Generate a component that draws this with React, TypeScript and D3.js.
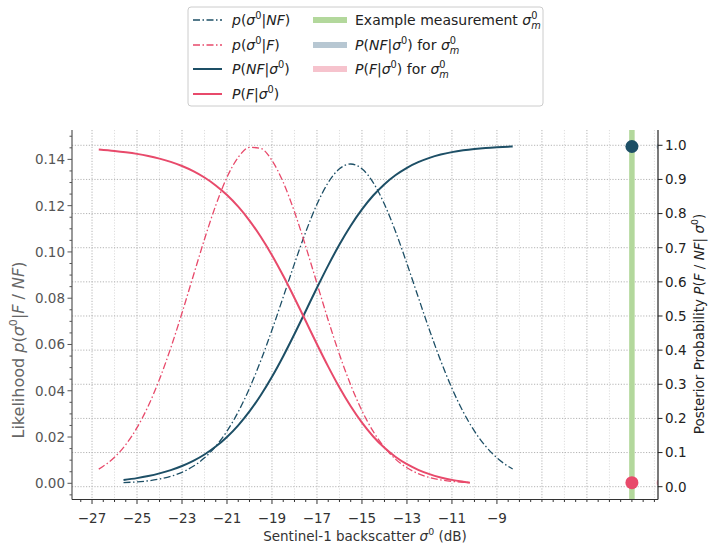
import React from "react";
import * as d3 from "d3";

// ---------- data ----------
const XS_NF = [-25.6, -25, -24.5, -24, -23.5, -23, -22.5, -22, -21.5, -21, -20.5, -20, -19.5, -19, -18.5, -18, -17.5, -17, -16.5, -16, -15.5, -15, -14.5, -14, -13.5, -13, -12.5, -12, -11.5, -11, -10.5, -10, -9.5, -9, -8.5, -8.3];
const LIK_NF = [0.00031, 0.00062, 0.00108, 0.00183, 0.00299, 0.00476, 0.00734, 0.011, 0.016, 0.02256, 0.0309, 0.04106, 0.05295, 0.06628, 0.08051, 0.09493, 0.10862, 0.12061, 0.12998, 0.13594, 0.138, 0.13594, 0.12998, 0.12061, 0.10862, 0.09493, 0.08051, 0.06628, 0.05295, 0.04106, 0.0309, 0.02256, 0.016, 0.011, 0.00734, 0.00619];
const POST_NF = [0.0196, 0.0251, 0.0313, 0.0391, 0.0486, 0.0607, 0.0757, 0.0944, 0.1176, 0.1457, 0.1798, 0.2204, 0.2679, 0.322, 0.3823, 0.4472, 0.5148, 0.5827, 0.6483, 0.7095, 0.7645, 0.8124, 0.8529, 0.8862, 0.913, 0.9342, 0.9505, 0.9632, 0.9728, 0.98, 0.9853, 0.9893, 0.9923, 0.9944, 0.996, 0.9965];

const XS_F = [-26.7, -26, -25.5, -25, -24.5, -24, -23.5, -23, -22.5, -22, -21.5, -21, -20.5, -20, -19.5, -19, -18.5, -18, -17.5, -17, -16.5, -16, -15.5, -15, -14.5, -14, -13.5, -13, -12.5, -12, -11.5, -11, -10.5, -10.2];
const LIK_F = [0.00611, 0.01125, 0.01673, 0.02405, 0.03344, 0.04498, 0.0585, 0.07362, 0.0896, 0.10549, 0.12011, 0.13228, 0.14093, 0.14521, 0.14473, 0.13953, 0.13009, 0.11734, 0.10237, 0.08639, 0.0705, 0.05566, 0.0425, 0.03139, 0.02242, 0.01549, 0.01035, 0.00669, 0.00419, 0.00253, 0.00148, 0.00084, 0.00046, 0.00031];
const POST_F = [0.9878, 0.9836, 0.9797, 0.9749, 0.9687, 0.9609, 0.9514, 0.9393, 0.9243, 0.9056, 0.8824, 0.8543, 0.8202, 0.7796, 0.7321, 0.678, 0.6177, 0.5528, 0.4852, 0.4173, 0.3517, 0.2905, 0.2355, 0.1876, 0.1471, 0.1138, 0.087, 0.0658, 0.0495, 0.0368, 0.0272, 0.02, 0.0147, 0.0119];

const SIGMA_M = -3;
const POST_NF_M = 0.9965;
const POST_F_M = 0.0119;

const X_TICKS = [-27, -25, -23, -21, -19, -17, -15, -13, -11, -9];
const X_GRID_MAJOR = [-27, -25, -23, -21, -19, -17, -15, -13, -11, -9, -7, -5, -3];
const X_GRID_MINOR = [-26, -24, -22, -20, -18, -16, -14, -12, -10, -8, -6, -4, -2];
const Y_LEFT_TICKS = [0, 0.02, 0.04, 0.06, 0.08, 0.1, 0.12, 0.14];
const Y_RIGHT_TICKS = [0, 0.1, 0.2, 0.3, 0.4, 0.5, 0.6, 0.7, 0.8, 0.9, 1.0];

// ---------- style ----------
const TEAL = "#1d4f66";
const PINK = "#e84a6b";
const GREEN = "#b3d89c";
const LIGHT_TEAL = "#b7c7d2";
const LIGHT_PINK = "#f6c3cd";
const FONT = "DejaVu Sans";

const L = 72, R = 658, T = 130, B = 499.5;

type Seg = { t: string; i?: boolean; sup?: boolean; sub?: boolean; dx?: number };

function MathText(props: { x: number; y: number; segs: Seg[]; fs: number; fill: string; anchor?: string; transform?: string }) {
  const { x, y, segs, fs, fill, anchor, transform } = props;
  let shift = 0;
  const items = segs.map((s, k) => {
    const target = s.sup ? -0.42 * fs : s.sub ? 0.28 * fs : 0;
    const dy = target - shift;
    shift = target;
    return (
      <tspan key={k} dy={dy} dx={s.dx || 0} fontStyle={s.i ? "italic" : "normal"} fontSize={s.sup || s.sub ? fs * 0.7 : fs}>
        {s.t}
      </tspan>
    );
  });
  return (
    <text x={x} y={y} fontFamily={FONT} fontSize={fs} fill={fill} textAnchor={anchor || "start"} transform={transform} style={{ whiteSpace: "pre" }}>
      {items}
    </text>
  );
}

export default function App() {
  const x = d3.scaleLinear().domain([-27.89, -1.84]).range([L, R]);
  const yL = d3.scaleLinear().domain([-0.007, 0.1527]).range([B, T]);
  const yR = d3.scaleLinear().domain([-0.0375, 1.0448]).range([B, T]);

  const lineL = d3.line<[number, number]>().x((d) => x(d[0])).y((d) => yL(d[1])).curve(d3.curveMonotoneX);
  const lineR = d3.line<[number, number]>().x((d) => x(d[0])).y((d) => yR(d[1])).curve(d3.curveMonotoneX);

  const nfLik = XS_NF.map((v, i) => [v, LIK_NF[i]] as [number, number]);
  const nfPost = XS_NF.map((v, i) => [v, POST_NF[i]] as [number, number]);
  const fLik = XS_F.map((v, i) => [v, LIK_F[i]] as [number, number]);
  const fPost = XS_F.map((v, i) => [v, POST_F[i]] as [number, number]);

  const xMinor = d3.range(-27.5, -1.84, 0.5).filter((v) => !X_TICKS.includes(v));
  const yLMinor = d3.range(-0.005, 0.1527, 0.005).filter((v) => !Y_LEFT_TICKS.some((t) => Math.abs(t - v) < 1e-6));

  const dashDot = "7,2.5,1.5,2.5";
  const fs = 13.5;
  const lfs = 14;

  const sig0: Seg[] = [{ t: "σ", i: true }, { t: "0", sup: true }];
  const sigM: Seg[] = [{ t: "σ", i: true }, { t: "0", sup: true }, { t: "m", sub: true, i: true, dx: -0.636 * 0.7 * lfs }];

  const legendCol1: { segs: Seg[]; color: string; dash?: string; w: number }[] = [
    { segs: [{ t: "p", i: true }, { t: "(" }, ...sig0, { t: "|" }, { t: "NF", i: true }, { t: ")" }], color: TEAL, dash: dashDot, w: 1.3 },
    { segs: [{ t: "p", i: true }, { t: "(" }, ...sig0, { t: "|" }, { t: "F", i: true }, { t: ")" }], color: PINK, dash: dashDot, w: 1.3 },
    { segs: [{ t: "P", i: true }, { t: "(" }, { t: "NF", i: true }, { t: "|" }, ...sig0, { t: ")" }], color: TEAL, w: 2 },
    { segs: [{ t: "P", i: true }, { t: "(" }, { t: "F", i: true }, { t: "|" }, ...sig0, { t: ")" }], color: PINK, w: 2 },
  ];
  const legendCol2: { segs: Seg[]; color: string }[] = [
    { segs: [{ t: "Example measurement " }, ...sigM], color: GREEN },
    { segs: [{ t: "P", i: true }, { t: "(" }, { t: "NF", i: true }, { t: "|" }, ...sig0, { t: ") for " }, ...sigM], color: LIGHT_TEAL },
    { segs: [{ t: "P", i: true }, { t: "(" }, { t: "F", i: true }, { t: "|" }, ...sig0, { t: ") for " }, ...sigM], color: LIGHT_PINK },
  ];
  const rowsY = [20, 45, 69, 94];

  return (
    <svg width={708} height={547} style={{ position: "absolute", left: 0, top: 0, background: "#fff" }}>
      <defs>
        <clipPath id="axclip">
          <rect x={L} y={T} width={R - L} height={B - T} />
        </clipPath>
      </defs>

      {/* grid */}
      <g>
        {X_GRID_MINOR.map((v) => (
          <line key={"gm" + v} x1={x(v)} x2={x(v)} y1={T} y2={B} stroke="#dddddd" strokeWidth={1} strokeDasharray="1.2,1.6" />
        ))}
        {X_GRID_MAJOR.map((v) => (
          <line key={"gM" + v} x1={x(v)} x2={x(v)} y1={T} y2={B} stroke="#b4b4b4" strokeWidth={1} strokeDasharray="1.2,1.6" />
        ))}
        {Y_RIGHT_TICKS.map((v) => (
          <line key={"gy" + v} x1={L} x2={R} y1={yR(v)} y2={yR(v)} stroke="#b4b4b4" strokeWidth={1} strokeDasharray="1.2,1.6" />
        ))}
      </g>

      <g clipPath="url(#axclip)">
        <line x1={x(SIGMA_M)} x2={x(SIGMA_M)} y1={T} y2={B} stroke={GREEN} strokeWidth={5.5} />
        <path d={lineL(nfLik) || ""} fill="none" stroke={TEAL} strokeWidth={1.3} strokeDasharray={dashDot} />
        <path d={lineL(fLik) || ""} fill="none" stroke={PINK} strokeWidth={1.3} strokeDasharray={dashDot} />
        <path d={lineR(nfPost) || ""} fill="none" stroke={TEAL} strokeWidth={2} />
        <path d={lineR(fPost) || ""} fill="none" stroke={PINK} strokeWidth={2} />
        <circle cx={x(-1.75)} cy={yR(POST_NF_M)} r={3.5} fill="#a6bac8" />
        <circle cx={x(-1.75)} cy={yR(POST_F_M)} r={3.5} fill="#f4a9b9" />
        <circle cx={x(SIGMA_M)} cy={yR(POST_NF_M)} r={6.5} fill={TEAL} />
        <circle cx={x(SIGMA_M)} cy={yR(POST_F_M)} r={6.5} fill={PINK} />
      </g>

      {/* spines */}
      <line x1={L} x2={L} y1={T} y2={B} stroke="#555" strokeWidth={1.2} />
      <line x1={R} x2={R} y1={T} y2={B} stroke="#222" strokeWidth={1.2} />
      <line x1={L} x2={R} y1={B} y2={B} stroke="#333" strokeWidth={1.2} />

      {/* bottom ticks */}
      {xMinor.map((v) => (
        <line key={"xm" + v} x1={x(v)} x2={x(v)} y1={B} y2={B + 2.5} stroke="#333" strokeWidth={1} />
      ))}
      {X_TICKS.map((v) => (
        <g key={"xt" + v}>
          <line x1={x(v)} x2={x(v)} y1={B} y2={B + 4.5} stroke="#333" strokeWidth={1} />
          <text x={x(v)} y={523} textAnchor="middle" fontFamily={FONT} fontSize={fs} fill="#333">
            {"\u2212" + Math.abs(v)}
          </text>
        </g>
      ))}

      {/* left ticks */}
      {yLMinor.map((v) => (
        <line key={"ylm" + v} x1={L - 2.5} x2={L} y1={yL(v)} y2={yL(v)} stroke="#555" strokeWidth={1} />
      ))}
      {Y_LEFT_TICKS.map((v) => (
        <g key={"yl" + v}>
          <line x1={L - 4.5} x2={L} y1={yL(v)} y2={yL(v)} stroke="#555" strokeWidth={1} />
          <text x={L - 7} y={yL(v)} dy="0.36em" textAnchor="end" fontFamily={FONT} fontSize={fs} fill="#555">
            {v.toFixed(2)}
          </text>
        </g>
      ))}

      {/* right ticks */}
      {Y_RIGHT_TICKS.map((v) => (
        <g key={"yr" + v}>
          <line x1={R} x2={R + 4.5} y1={yR(v)} y2={yR(v)} stroke="#222" strokeWidth={1} />
          <text x={R + 7} y={yR(v)} dy="0.36em" textAnchor="start" fontFamily={FONT} fontSize={fs} fill="#222">
            {v.toFixed(1)}
          </text>
        </g>
      ))}

      {/* axis titles */}
      <MathText x={365} y={541} anchor="middle" fs={13.5} fill="#333" segs={[{ t: "Sentinel-1 backscatter " }, ...sig0, { t: " (dB)" }]} />
      <MathText
        x={0}
        y={0}
        anchor="middle"
        fs={16}
        fill="#666"
        transform={`translate(24,350) rotate(-90)`}
        segs={[{ t: "Likelihood " }, { t: "p", i: true }, { t: "(" }, ...sig0, { t: "|" }, { t: "F", i: true }, { t: " / " }, { t: "NF", i: true }, { t: ")" }]}
      />
      <MathText
        x={0}
        y={0}
        anchor="middle"
        fs={13.5}
        fill="#222"
        transform={`translate(704,324) rotate(-90)`}
        segs={[{ t: "Posterior Probability " }, { t: "P", i: true }, { t: "(" }, { t: "F", i: true }, { t: " / " }, { t: "NF", i: true }, { t: "| " }, ...sig0, { t: ")" }]}
      />

      {/* legend */}
      <rect x={188} y={7} width={355} height={99} rx={3} fill="#fff" stroke="#cccccc" strokeWidth={1} />
      {legendCol1.map((e, k) => (
        <g key={"l1" + k}>
          <line x1={193} x2={222} y1={rowsY[k]} y2={rowsY[k]} stroke={e.color} strokeWidth={e.w} strokeDasharray={e.dash} />
          <MathText x={232} y={rowsY[k] + 5} fs={lfs} fill="#222" segs={e.segs} />
        </g>
      ))}
      {legendCol2.map((e, k) => (
        <g key={"l2" + k}>
          <line x1={313} x2={347} y1={rowsY[k]} y2={rowsY[k]} stroke={e.color} strokeWidth={6} />
          <MathText x={355} y={rowsY[k] + 5} fs={lfs} fill="#222" segs={e.segs} />
        </g>
      ))}
    </svg>
  );
}
